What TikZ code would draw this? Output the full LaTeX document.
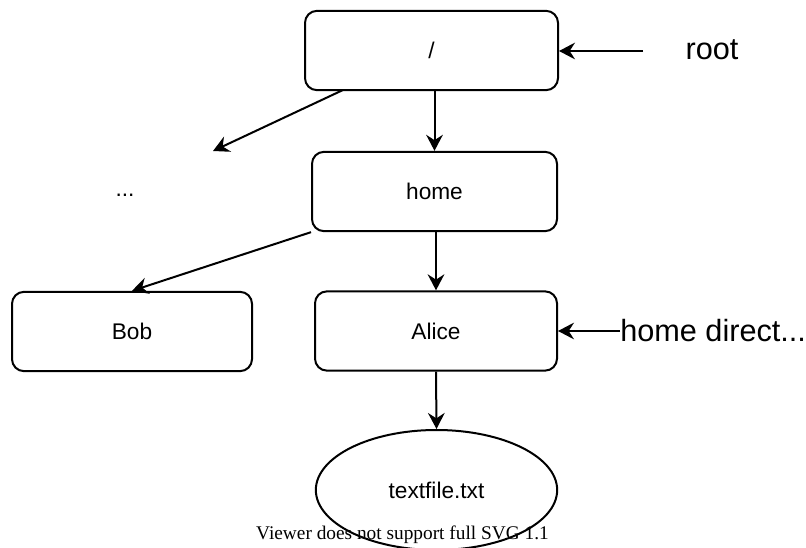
\documentclass[tikz,border=0pt]{standalone}
\usepackage{fontspec}
\setmainfont{Liberation Sans}
\newfontfamily\viewerfont{Liberation Serif}
\usetikzlibrary{arrows.meta,shapes.geometric}
\tikzset{
  px/.style={x=0.75pt,y=-0.75pt},
  box/.style={draw,line width=1.5pt,rounded corners=9pt,minimum width=#1,minimum height=59.5pt,inner sep=0pt,font=\fontsize{17}{20}\selectfont},
  filebox/.style={draw,ellipse,line width=1.5pt,minimum width=181pt,minimum height=90pt,inner sep=0pt,font=\fontsize{17}{20}\selectfont},
  arr/.style={line width=1.5pt,-{Stealth[length=12pt,width=12.5pt,inset=4pt]}},
  biglabel/.style={inner sep=0pt,font=\fontsize{23}{27}\selectfont},
  smalllabel/.style={inner sep=0pt,font=\fontsize{17}{20}\selectfont}
}
\begin{document}
\begin{tikzpicture}[px]
\useasboundingbox (0,0) rectangle (806,548);
\clip (0,0) rectangle (806,548);
\node[box=189.75pt] (r) at (431.5,50.5) {/};
\node[box=183.75pt] (home) at (434.5,191.5) {home};
\node[box=180pt] (bob) at (132,331.5) {Bob};
\node[box=181.5pt] (alice) at (436,331) {Alice};
\node[filebox] (file) at (436.5,490) {textfile.txt};
\node[smalllabel] (dots) at (125,195) {...};
\node[biglabel] (rootlbl) at (712,50) {root};
\node[biglabel,anchor=west] (hd) at (620,331) {home direct...};
\coordinate (rootin) at (643,51);
\coordinate (dotstip) at (213,151);
\coordinate (rfrom) at (343,90);
\draw[arr] (rootin) -- (rootin -| r.east);
\draw[arr] (hd.west) -- (hd.west -| alice.east);
\draw[arr] (rfrom) -- (dotstip);
\draw[arr] (r.south -| home.north) -- (home.north);
\draw[arr] (home.south west) -- (bob.north);
\draw[arr] (home.south -| alice.north) -- (alice.north);
\draw[arr] (alice.south) -- (file.north);
\node[inner sep=0pt,anchor=base,font=\viewerfont\fontsize{14.5}{17}\selectfont] (viewer) at (402.5,539) {Viewer does not support full SVG 1.1};
\end{tikzpicture}
\end{document}
